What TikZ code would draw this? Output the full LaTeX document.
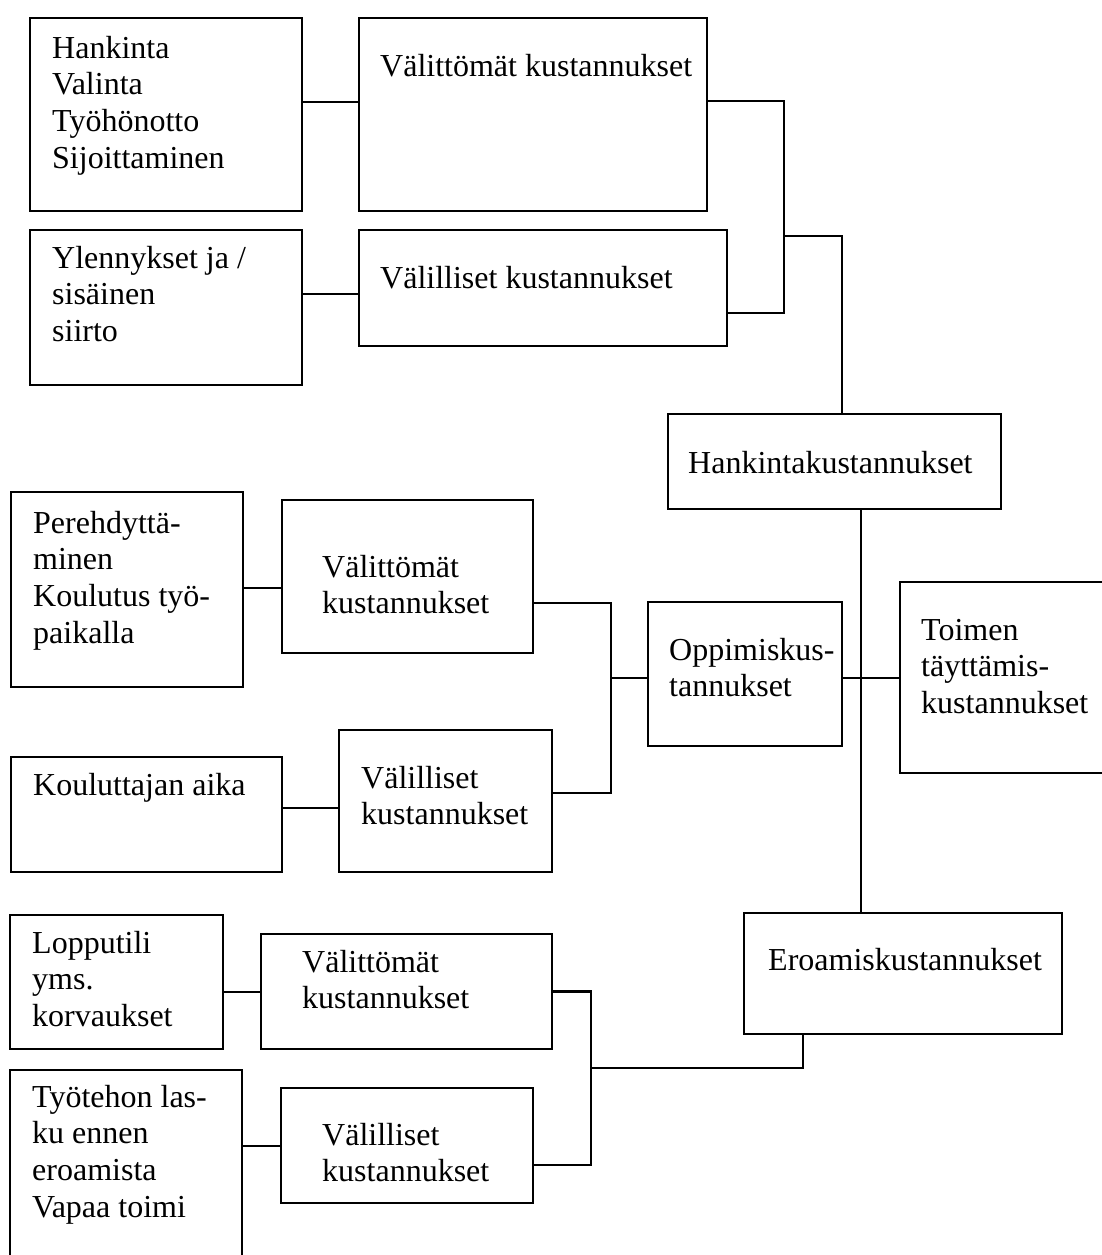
\documentclass[tikz,border=0pt]{standalone}
\usepackage{fontspec}
\setmainfont{Liberation Serif}
\begin{document}
\begin{tikzpicture}[x=1pt,y=-1pt,
  box/.style={draw, line width=2.2pt, rectangle, inner sep=0pt, outer sep=0pt, anchor=north west},
  % multi-line labels are placed at the baseline of their last line
  lbl/.style={anchor=base west, inner sep=0pt, align=left, font=\fontsize{32}{36.8}\selectfont},
  wire/.style={line width=2.2pt}]
\useasboundingbox[fill=white] (0,0) rectangle (1101,1255);

% ---- boxes ----
\node[box, minimum width=272pt, minimum height=193pt] (b1)  at (30,18) {};
\node[box, minimum width=348pt, minimum height=193pt] (b2)  at (359,18) {};
\node[box, minimum width=272pt, minimum height=155pt] (b3)  at (30,230) {};
\node[box, minimum width=368pt, minimum height=116pt] (b4)  at (359,230) {};
\node[box, minimum width=333pt, minimum height=95pt]  (b5)  at (668,414) {};
\node[box, minimum width=232pt, minimum height=195pt] (b6)  at (11,492) {};
\node[box, minimum width=251pt, minimum height=153pt] (b7)  at (282,500) {};
\node[box, minimum width=194pt, minimum height=144pt] (b8)  at (648,602) {};
\node[box, minimum width=220pt, minimum height=191pt] (b9)  at (900,582) {};
\node[box, minimum width=271pt, minimum height=115pt] (b10) at (11,757) {};
\node[box, minimum width=213pt, minimum height=142pt] (b11) at (339,730) {};
\node[box, minimum width=318pt, minimum height=121pt] (b12) at (744,913) {};
\node[box, minimum width=213pt, minimum height=134pt] (b13) at (10,915) {};
\node[box, minimum width=291pt, minimum height=115pt] (b14) at (261,934) {};
\node[box, minimum width=232pt, minimum height=200pt] (b15) at (10,1070) {};
\node[box, minimum width=252pt, minimum height=115pt] (b16) at (281,1088) {};

% ---- texts ----
\node[lbl] (t1)  at (52,168.4)   {Hankinta\\Valinta\\Työhönotto\\Sijoittaminen};
\node[lbl] (t2)  at (380,77)     {Välittömät kustannukset};
\node[lbl] (t3)  at (52,341.6)   {Ylennykset ja /\\sisäinen\\siirto};
\node[lbl] (t4)  at (380,288)    {Välilliset kustannukset};
\node[lbl] (t5)  at (688,473)    {Hankintakustannukset};
\node[lbl] (t6)  at (33,643.4)   {Perehdyttä-\\minen\\Koulutus työ-\\paikalla};
\node[lbl] (t7)  at (322,613.8)  {Välittömät\\kustannukset};
\node[lbl] (t8)  at (669,696.8)  {Oppimiskus-\\tannukset};
\node[lbl] (t9)  at (921,713.6)  {Toimen\\täyttämis-\\kustannukset};
\node[lbl] (t10) at (33,795)     {Kouluttajan aika};
\node[lbl] (t11) at (361,824.8)  {Välilliset\\kustannukset};
\node[lbl] (t12) at (768,970)    {Eroamiskustannukset};
\node[lbl] (t13) at (32,1026.6)  {Lopputili\\yms.\\korvaukset};
\node[lbl] (t14) at (302,1008.8) {Välittömät\\kustannukset};
\node[lbl] (t15) at (32,1217.4)  {Työtehon las-\\ku ennen\\eroamista\\Vapaa toimi};
\node[lbl] (t16) at (322,1181.8) {Välilliset\\kustannukset};

% ---- connectors: acquisition ----
\draw[wire] ([yshift=12.5pt]b1.east) coordinate (p) -- (p -| b2.west);
\draw[wire] ([yshift=13.5pt]b3.east) coordinate (p) -- (p -| b4.west);
\coordinate (ja) at (784,236);
\draw[wire] ([yshift=13.5pt]b2.east) -| (ja) |- ([yshift=-25pt]b4.east);
\draw[wire] (ja) -| ([xshift=7.5pt]b5.north);
\draw[wire] ([xshift=26.5pt]b5.south) coordinate (p) -- (p |- b12.north);

% ---- connectors: learning ----
\draw[wire] ([yshift=1.5pt]b6.east) coordinate (p) -- (p -| b7.west);
\draw[wire] ([yshift=6.5pt]b10.east) coordinate (p) -- (p -| b11.west);
\coordinate (jb) at (611,678);
\draw[wire] ([yshift=-26.5pt]b7.east) -| (jb) |- ([yshift=8pt]b11.east);
\draw[wire] (jb) -- (jb -| b8.west);
\draw[wire] ([yshift=-4pt]b8.east) coordinate (p) -- (p -| b9.west);

% ---- connectors: separation ----
\draw[wire] ([yshift=-10pt]b13.east) coordinate (p) -- (p -| b14.west);
\draw[wire] ([yshift=24pt]b15.east) coordinate (p) -- (p -| b16.west);
\coordinate (jc) at (591,1068);
\draw[wire] (b14.east) -| (jc) |- ([yshift=-19.5pt]b16.east);
\draw[wire] (jc) -| ([xshift=-100pt]b12.south);
\end{tikzpicture}
\end{document}
